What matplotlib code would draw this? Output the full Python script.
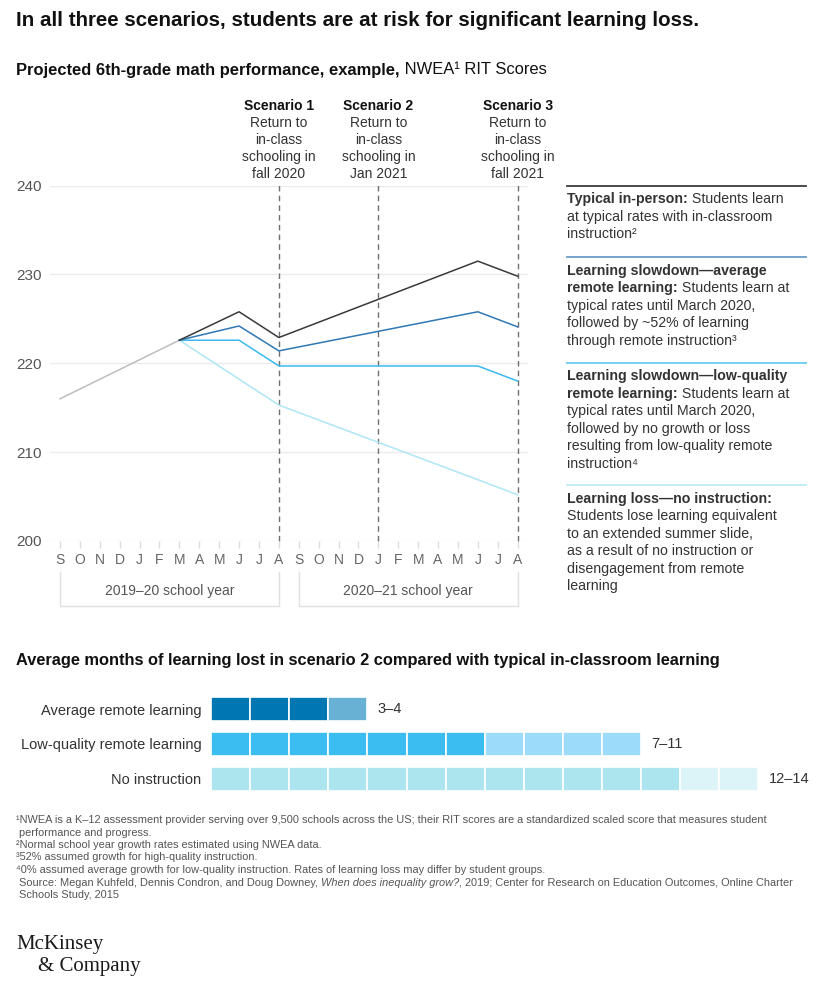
import matplotlib
matplotlib.use('Agg')
import matplotlib.pyplot as plt
import matplotlib.transforms as mtransforms
from matplotlib.lines import Line2D

W, H, DPI = 824, 984, 100

SANS = ['Liberation Sans', 'DejaVu Sans']
SERIF = ['Liberation Serif', 'DejaVu Serif']
plt.rcParams['font.family'] = SANS

# Data

months = ['S', 'O', 'N', 'D', 'J', 'F', 'M', 'A', 'M', 'J', 'J', 'A'] * 2
yTicks = [200, 210, 220, 230, 240]

preX = [0, 6]
preY = [216.0, 222.6]

typicalX = [6, 9, 11, 21, 23]
typicalY = [222.6, 225.8, 222.9, 231.5, 229.8]

avgRemoteX = [6, 9, 11, 21, 23]
avgRemoteY = [222.6, 224.2, 221.4, 225.8, 224.1]

lowQualityX = [6, 9, 11, 21, 23]
lowQualityY = [222.6, 222.6, 219.7, 219.7, 218.0]

noInstructionX = [6, 11, 21, 23]
noInstructionY = [222.6, 215.3, 206.9, 205.2]

scenarioX = [11, 16, 23]
scenarioNames = ['Scenario 1', 'Scenario 2', 'Scenario 3']
scenarioLines = [
    ['Return to', 'in-class', 'schooling in', 'fall 2020'],
    ['Return to', 'in-class', 'schooling in', 'Jan 2021'],
    ['Return to', 'in-class', 'schooling in', 'fall 2021'],
]

schoolYears = ['2019\u201320 school year', '2020\u201321 school year']
schoolYearStart = [0, 12]
schoolYearEnd = [11, 23]

barCategories = ['Average remote learning', 'Low-quality remote learning', 'No instruction']
barLow = [3, 7, 12]
barHigh = [4, 11, 14]
barLabels = ['3\u20134', '7\u201311', '12\u201314']

legendEntries = [
    [[('Typical in-person:', 'bold'), (' Students learn', 'normal')],
     [('at typical rates with in-classroom', 'normal')],
     [('instruction\u00b2', 'normal')]],
    [[('Learning slowdown\u2014average', 'bold')],
     [('remote learning:', 'bold'), (' Students learn at', 'normal')],
     [('typical rates until March 2020,', 'normal')],
     [('followed by ~52% of learning', 'normal')],
     [('through remote instruction\u00b3', 'normal')]],
    [[('Learning slowdown\u2014low-quality', 'bold')],
     [('remote learning:', 'bold'), (' Students learn at', 'normal')],
     [('typical rates until March 2020,', 'normal')],
     [('followed by no growth or loss', 'normal')],
     [('resulting from low-quality remote', 'normal')],
     [('instruction\u2074', 'normal')]],
    [[('Learning loss\u2014no instruction:', 'bold')],
     [('Students lose learning equivalent', 'normal')],
     [('to an extended summer slide,', 'normal')],
     [('as a result of no instruction or', 'normal')],
     [('disengagement from remote', 'normal')],
     [('learning', 'normal')]],
]

footnotes = [
    [('\u00b9NWEA is a K\u201312 assessment provider serving over 9,500 schools across the US; their RIT scores are a standardized scaled score that measures student', 'normal', 'normal')],
    [(' performance and progress.', 'normal', 'normal')],
    [('\u00b2Normal school year growth rates estimated using NWEA data.', 'normal', 'normal')],
    [('\u00b352% assumed growth for high-quality instruction.', 'normal', 'normal')],
    [('\u20740% assumed average growth for low-quality instruction. Rates of learning loss may differ by student groups.', 'normal', 'normal')],
    [(' Source: Megan Kuhfeld, Dennis Condron, and Doug Downey, ', 'normal', 'normal'),
     ('When does inequality grow?', 'normal', 'italic'),
     (', 2019; Center for Research on Education Outcomes, Online Charter', 'normal', 'normal')],
    [(' Schools Study, 2015', 'normal', 'normal')],
]

# Colours
lineColors = ['#3a3a3a', '#2f78b4', '#3ab9ee', '#aee6f5']
legendLineColors = ['#3a3a3a', '#6b9cc7', '#66cdf3', '#bdebf7']
barDark = ['#0077b3', '#3bbdf2', '#ade5ef']
barLight = ['#69b0d5', '#9cdbfa', '#dcf3f8']

fig = plt.figure(figsize=(W / DPI, H / DPI), dpi=DPI)
fig.patch.set_facecolor('white')
renderer = fig.canvas.get_renderer()


def fx(px):
    return px / W


def fy(py):
    return 1 - py / H


def advance(s, **kw):
    t = fig.text(0, 0, s + '|', **kw)
    w1 = t.get_window_extent(renderer).width
    t.set_text('|')
    w2 = t.get_window_extent(renderer).width
    t.remove()
    return w1 - w2


def richLine(x, y, parts, size, family, color):
    for part in parts:
        s, weight = part[0], part[1]
        style = part[2] if len(part) > 2 else 'normal'
        kw = dict(fontsize=size, family=family, fontweight=weight, fontstyle=style, color=color)
        fig.text(fx(x), fy(y), s, ha='left', va='center', **kw)
        x += advance(s, **kw)


# Titles
fig.text(fx(16), fy(20), 'In all three scenarios, students are at risk for significant learning loss.',
         fontsize=14.8, fontweight='bold', color='#111111', va='center')
richLine(16, 70, [('Projected 6th-grade math performance, example,', 'bold'), (' NWEA\u00b9 RIT Scores', 'normal')],
         11.9, SANS, '#111111')

# Line chart
ax = fig.add_axes([fx(50), fy(541), (527.6 - 50) / W, (541 - 185.6) / H])
ax.set_xlim(-0.5, 23.5)
ax.set_ylim(200, 240)
for s in ax.spines.values():
    s.set_visible(False)
for v in yTicks:
    ax.axhline(v, color='#ececec', lw=1, zorder=0)
ax.set_yticks(yTicks)
ax.tick_params(axis='y', length=0, pad=6, labelsize=11, labelcolor='#555555')
ax.set_xticks(range(len(months)))
ax.set_xticklabels(months)
ax.tick_params(axis='x', length=5, width=1, color='#dddddd', pad=4, labelsize=10, labelcolor='#666666')

ax.vlines(scenarioX, 200, 240.4, colors='#707070', linestyles=(0, (4, 3)), lw=1, clip_on=False, zorder=1)

ax.plot(preX, preY, color='#bdbdbd', lw=1.1, zorder=2)
ax.plot(noInstructionX, noInstructionY, color=lineColors[3], lw=1.1, zorder=3)
ax.plot(lowQualityX, lowQualityY, color=lineColors[2], lw=1.1, zorder=4)
ax.plot(avgRemoteX, avgRemoteY, color=lineColors[1], lw=1.1, zorder=5)
ax.plot(typicalX, typicalY, color=lineColors[0], lw=1.1, zorder=6)

trans = mtransforms.blended_transform_factory(ax.transData, fig.transFigure)
for x, name, lines in zip(scenarioX, scenarioNames, scenarioLines):
    ax.text(x, fy(106), name, transform=trans, ha='center', va='center', fontsize=10,
            fontweight='bold', color='#111111')
    for k, ln in enumerate(lines):
        ax.text(x, fy(123 + 17 * k), ln, transform=trans, ha='center', va='center', fontsize=10,
                color='#333333')

for name, a, b in zip(schoolYears, schoolYearStart, schoolYearEnd):
    ax.plot([a, a, b, b], [fy(572), fy(606), fy(606), fy(572)], transform=trans, color='#e0e0e0',
            lw=1, clip_on=False)
    ax.text((a + b) / 2, fy(591.5), name, transform=trans, ha='center', va='center', fontsize=10,
            color='#555555')

# Legend on the right
legendLineY = [185.7, 257.3, 362.7, 485]
for entry, ly, col in zip(legendEntries, legendLineY, legendLineColors):
    fig.add_artist(Line2D([fx(567), fx(806)], [fy(ly), fy(ly)], color=col, lw=1.3,
                          transform=fig.transFigure))
    for k, parts in enumerate(entry):
        richLine(567, ly + 13.5 + 17.5 * k, parts, 10.2, SANS, '#333333')

# Bar chart
fig.text(fx(16), fy(661), 'Average months of learning lost in scenario 2 compared with typical in-classroom learning',
         fontsize=11.8, fontweight='bold', color='#111111', va='center')

cell = 39.1
bx = fig.add_axes([fx(211), fy(796.5), cell * 14 / W, 105 / H])
bx.set_xlim(0, 14)
bx.set_ylim(2.5, -0.5)
for s in bx.spines.values():
    s.set_visible(False)
bx.set_xticks([])
bx.set_yticks(range(len(barCategories)))
bx.set_yticklabels(barCategories)
bx.tick_params(axis='y', length=0, pad=7, labelsize=10.5, labelcolor='#333333')
for i, (lo, hi) in enumerate(zip(barLow, barHigh)):
    cols = [barDark[i] if m < lo else barLight[i] for m in range(hi)]
    bx.barh([i] * hi, [1] * hi, left=list(range(hi)), height=0.69, color=cols,
            edgecolor='white', linewidth=1.2)
    bx.text(hi + 10 / cell, i, barLabels[i], ha='left', va='center', fontsize=10.5,
            color='#333333', clip_on=False)

# Footnotes
for k, parts in enumerate(footnotes):
    richLine(16, 820 + 12.5 * k, parts, 7.9, SANS, '#555555')

# Logo
fig.text(fx(16), fy(944), 'McKinsey', family=SERIF, fontsize=15, color='#1a1a1a', va='center')
fig.text(fx(38), fy(966), '& Company', family=SERIF, fontsize=15, color='#1a1a1a', va='center')

fig.savefig('out.png', dpi=DPI, facecolor='white')
